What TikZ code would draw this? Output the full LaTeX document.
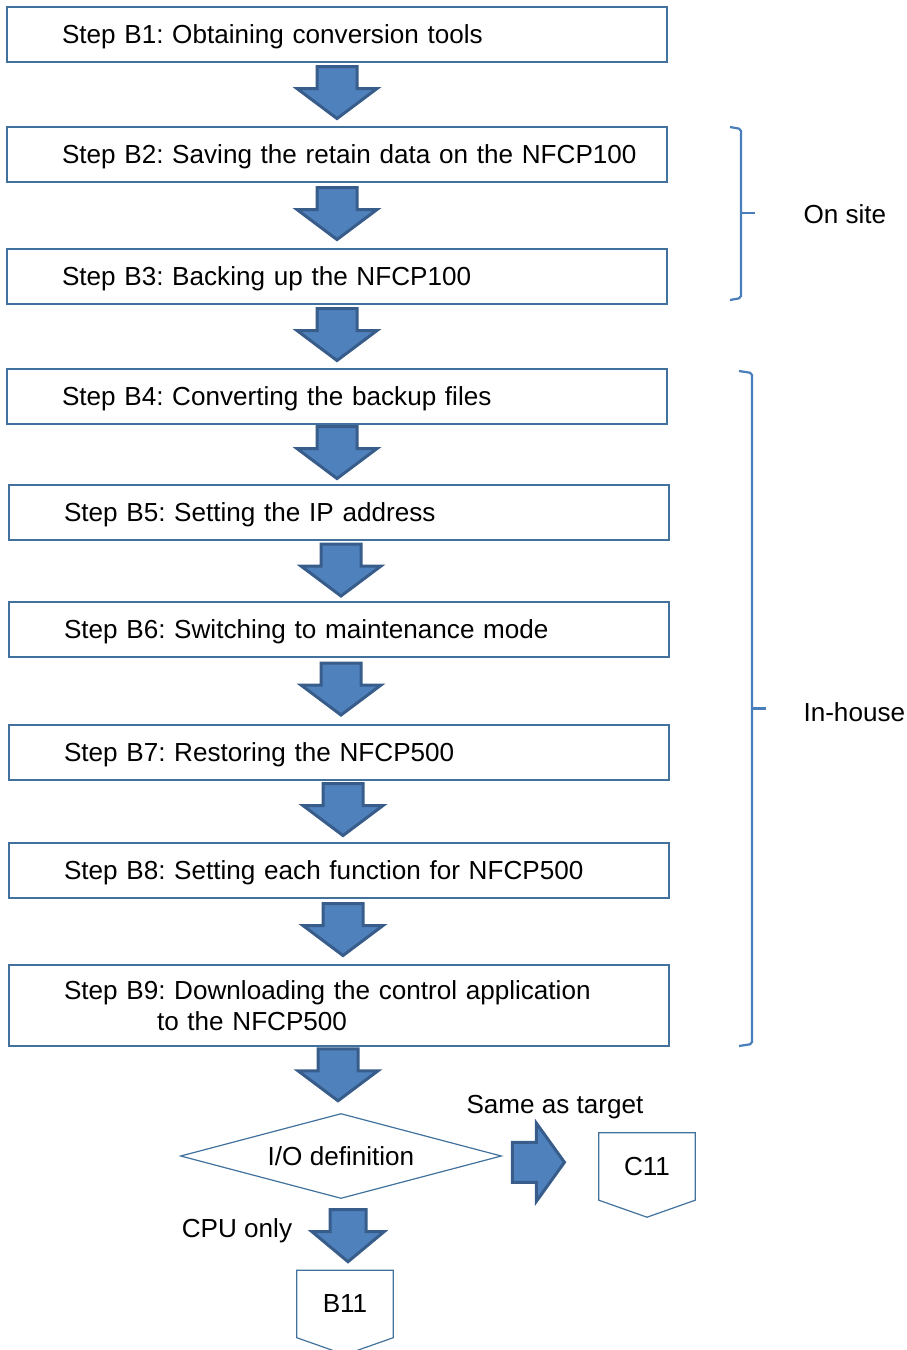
\documentclass[tikz,border=0pt]{standalone}
\usepackage{fontspec}
\setmainfont{Liberation Sans}
\usetikzlibrary{shapes.geometric,calc}
\definecolor{boxblue}{HTML}{41719C}
\definecolor{arrowfill}{HTML}{4F81BD}
\definecolor{arrowline}{HTML}{385D8A}
\definecolor{braceblue}{HTML}{4A7EBB}
\frenchspacing

\begin{document}
\begin{tikzpicture}[x=1pt, y=-1pt, font=\fontsize{26.1}{31}\selectfont,
  tallbox/.style={draw=boxblue, line width=1.2pt, minimum width=660pt, minimum height=81pt, text width=550pt, inner xsep=55pt, align=left},
  stepbox/.style={tallbox, minimum height=55pt, text depth=0pt},
  decision/.style={diamond, draw=boxblue, line width=1.2pt, minimum width=321pt, minimum height=85pt, inner sep=0pt, aspect=3.78},
  offpage/.style={minimum width=96pt, minimum height=67pt, inner sep=0pt},
  outline/.style={draw=boxblue, line width=1.2pt},
  fatarrow/.style={fill=arrowfill, draw=arrowline, line width=3pt, line join=miter},
  bracebar/.style={draw=braceblue, line width=2.2pt},
  fatdown/.pic={\filldraw[fatarrow] (-20,-26) -- (20,-26) -- (20,-4) -- (40,-4) -- (0,26) -- (-40,-4) -- (-20,-4) -- cycle;},
  fatright/.pic={\filldraw[fatarrow] (-26,-20) -- (-2,-20) -- (-2,-39) -- (26,0) -- (-2,39) -- (-2,20) -- (-26,20) -- cycle;}]
\useasboundingbox (0,0) rectangle (907,1350);

\node[stepbox] (b1) at (337, 34.5) {Step B1: Obtaining conversion tools};
\node[stepbox] (b2) at (337,154.5) {\mbox{Step B2: Saving the retain data on the NFCP100}};
\node[stepbox] (b3) at (337,276.5) {Step B3: Backing up the NFCP100};
\node[stepbox] (b4) at (337,396.5) {Step B4: Converting the backup files};
\node[stepbox] (b5) at (339,512.5) {Step B5: Setting the IP address};
\node[stepbox] (b6) at (339,629.5) {Step B6: Switching to maintenance mode};
\node[stepbox] (b7) at (339,752.5) {Step B7: Restoring the NFCP500};
\node[stepbox] (b8) at (339,870.5) {Step B8: Setting each function for NFCP500};
\node[tallbox] (b9) at (339,1005.5) {Step B9: Downloading the control application\\\hspace*{93pt}to the NFCP500};

\node[decision] (io) at (341,1156) {I/O definition};
\node[offpage] (c11) at (647,1166.5) {C11};
\node[offpage] (b11) at (345,1304) {B11};
\draw[outline] (c11.north west) -- (c11.north east) -- (c11.south east) -- ($(c11.south)+(0,17)$) -- (c11.south west) -- cycle;
\draw[outline] (b11.north west) -- (b11.north east) -- (b11.south east) -- ($(b11.south)+(0,17)$) -- (b11.south west) -- cycle;

\node (same) at (555,1107) {Same as target};
\node (cpuonly) at (237,1231) {CPU only};

% Step arrows
\pic at ($(b1.south)!.5!(b2.north)+(0,-2)$) {fatdown};
\pic at ($(b2.south)!.5!(b3.north)+(0,-2)$) {fatdown};
\pic at ($(b3.south)!.5!(b4.north)+(0,-2)$) {fatdown};
\pic at ($(b4.south)!.5!(b5.north)+(-1,-2)$) {fatdown};
\pic at ($(b5.south)!.5!(b6.north)+(2,-1)$) {fatdown};
\pic at ($(b6.south)!.5!(b7.north)+(2,-2)$) {fatdown};
\pic at ($(b7.south)!.5!(b8.north)+(4,-2)$) {fatdown};
\pic at ($(b8.south)!.5!(b9.north)+(4,-2)$) {fatdown};
\pic at ($(b9.south)!.5!(io.north)+(-2,-5)$) {fatdown};

% Decision arrows
\pic at ($(io.east)!.5!(c11.west)+(-12,1)$) {fatright};
\pic[xscale=0.9] at ($(io.south)!.5!(b11.north)+(5,1)$) {fatdown};

% Braces
\draw[bracebar, rounded corners=2pt] (730,127) -- (741,129) -- (741,298) -- (730,300);
\draw[bracebar] (741,213) -- (755,213);
\draw[bracebar, rounded corners=2pt] (739,371) -- (752,373) -- (752,1044) -- (739,1046);
\draw[bracebar] (752,708.5) -- (766,708.5);
\node[anchor=west] (onsite) at (800,214) {On site};
\node[anchor=west] (inhouse) at (800,712) {In-house};
\end{tikzpicture}
\end{document}
